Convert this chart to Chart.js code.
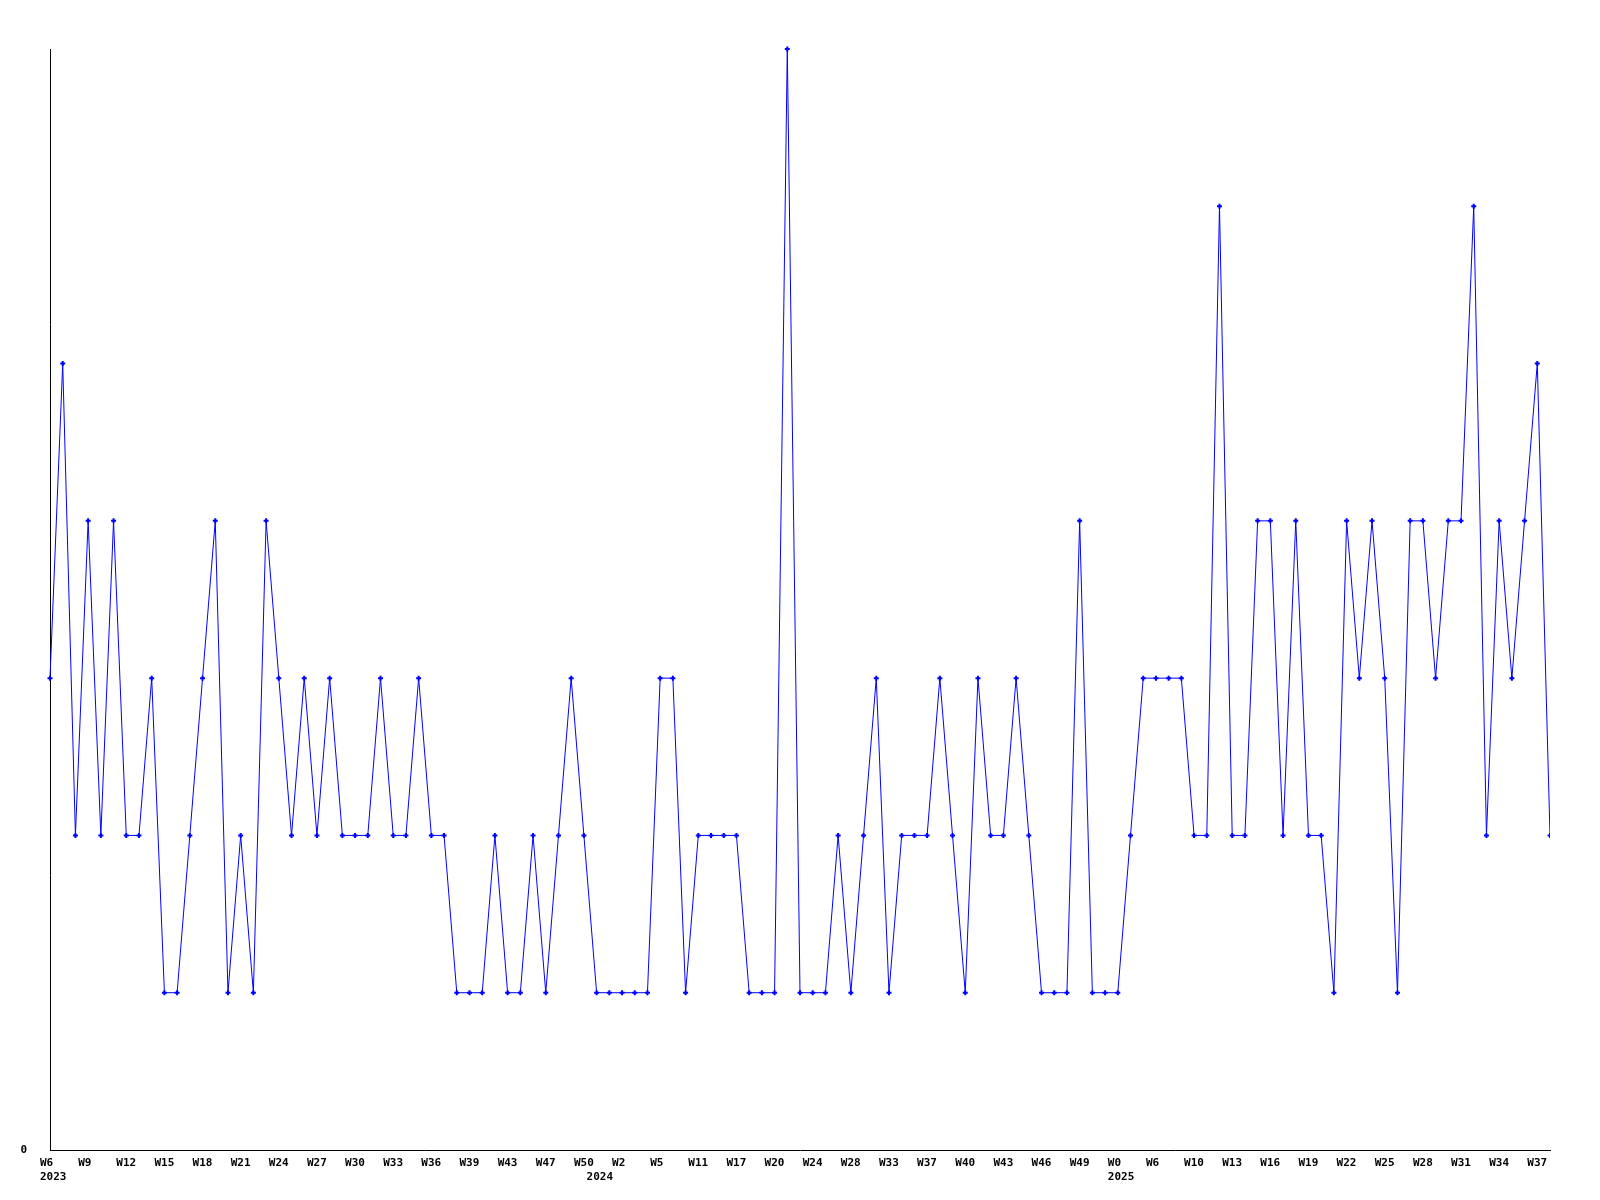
<!DOCTYPE html>
<html>
<head>
<meta charset="utf-8">
<script src="https://cdn.jsdelivr.net/npm/chart.js@4"></script>
<style>
  html, body { margin: 0; padding: 0; background: #fff; }
  canvas { display: block; }
</style>
</head>
<body>
<canvas id="chart" width="1600" height="1200"></canvas>
<script>
// one value per week shown on the axis (119 points)
const counts = [
  3, 5, 2, 4, 2, 4, 2, 2, 3, 1,
  1, 2, 3, 4, 1, 2, 1, 4, 3, 2,
  3, 2, 3, 2, 2, 2, 3, 2, 2, 3,
  2, 2, 1, 1, 1, 2, 1, 1, 2, 1,
  2, 3, 2, 1, 1, 1, 1, 1, 3, 3,
  1, 2, 2, 2, 2, 1, 1, 1, 7, 1,
  1, 1, 2, 1, 2, 3, 1, 2, 2, 2,
  3, 2, 1, 3, 2, 2, 3, 2, 1, 1,
  1, 4, 1, 1, 1, 2, 3, 3, 3, 3,
  2, 2, 6, 2, 2, 4, 4, 2, 4, 2,
  2, 1, 4, 3, 4, 3, 1, 4, 4, 3,
  4, 4, 6, 2, 4, 3, 4, 5, 2
];

// labels drawn under every third point
const weekTicks = [
  'W6', 'W9', 'W12', 'W15', 'W18', 'W21', 'W24', 'W27', 'W30', 'W33',
  'W36', 'W39', 'W43', 'W47', 'W50', 'W2', 'W5', 'W11', 'W17', 'W20',
  'W24', 'W28', 'W33', 'W37', 'W40', 'W43', 'W46', 'W49', 'W0', 'W6',
  'W10', 'W13', 'W16', 'W19', 'W22', 'W25', 'W28', 'W31', 'W34', 'W37'
];
const yearTicks = ['2023', '2024', '2025'];
const yearAt = [0, 43, 84];

const categories = counts.map((_, i) => i);

function tickLabel(i) {
  const week = i % 3 === 0 ? weekTicks[i / 3] : '';
  const y = yearAt.indexOf(i);
  return y >= 0 ? [week, yearTicks[y]] : week;
}

const tickFont = { family: 'DejaVu Sans Mono', size: 11, weight: 'bold', lineHeight: '14px' };

new Chart(document.getElementById('chart'), {
  type: 'line',
  data: {
    labels: categories,
    datasets: [{
      data: counts,
      borderColor: '#0000ff',
      borderWidth: 1,
      tension: 0,
      pointStyle: 'cross',
      pointRadius: 2.5,
      pointBorderWidth: 2,
      pointBorderColor: '#0000ff',
      pointBackgroundColor: '#0000ff',
      clip: { left: 5, top: 5, right: 0, bottom: 5 }
    }]
  },
  options: {
    responsive: false,
    devicePixelRatio: 1,
    animation: false,
    layout: { padding: { top: 49, right: 50, left: 0, bottom: 0 } },
    plugins: {
      legend: { display: false },
      tooltip: { enabled: false }
    },
    scales: {
      x: {
        type: 'category',
        offset: false,
        grid: { display: false, drawTicks: false },
        border: { display: true, color: '#000', width: 1 },
        ticks: {
          autoSkip: false,
          maxRotation: 0,
          minRotation: 0,
          align: 'start',
          labelOffset: -10,
          padding: 6,
          color: '#000',
          font: tickFont,
          callback: (v, i) => tickLabel(i)
        },
        afterFit: s => { s.height = 50; s.paddingLeft = 0; s.paddingRight = 0; }
      },
      y: {
        min: 0,
        max: 7,
        grid: { display: false, drawTicks: false },
        border: { display: true, color: '#000', width: 1 },
        ticks: {
          stepSize: 1,
          padding: 23,
          color: '#000',
          font: tickFont,
          callback: v => (v === 0 ? '0' : '')
        },
        afterFit: s => { s.width = 50; }
      }
    }
  }
});
</script>
</body>
</html>
